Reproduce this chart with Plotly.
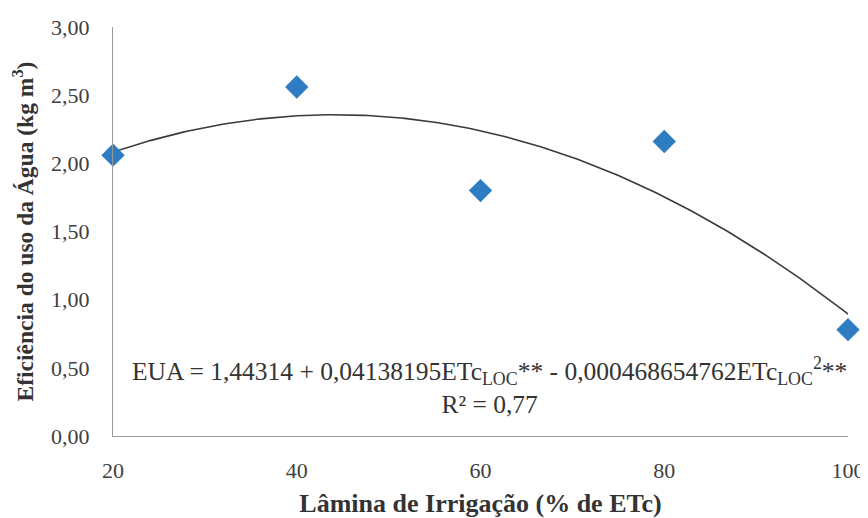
import numpy as np
import plotly.graph_objects as go

# Data
lamina = [20, 40, 60, 80, 100]
eua = [2.06, 2.56, 1.80, 2.16, 0.78]
# Quadratic trendline coefficients (as printed on the chart)
coef = [1.44314, 0.04138195, -0.000468654762]
x_ticks = [20, 40, 60, 80, 100]
y_ticks = [0, 0.5, 1.0, 1.5, 2.0, 2.5, 3.0]

xs = np.linspace(min(lamina), max(lamina), 200)
ys = coef[0] + coef[1] * xs + coef[2] * xs ** 2

fig = go.Figure()
fig.add_trace(go.Scatter(x=xs, y=ys, mode="lines",
                         line=dict(color="#3a3a3a", width=1.6),
                         cliponaxis=False, showlegend=False))
fig.add_trace(go.Scatter(x=lamina, y=eua, mode="markers",
                         marker=dict(symbol="diamond", size=18, color="#2E7DC2"),
                         cliponaxis=False, showlegend=False))

font = "Liberation Serif"
fig.add_annotation(
    x=61, y=0.37, xref="x", yref="y", showarrow=False,
    text="EUA = 1,44314 + 0,04138195ETc<sub>LOC</sub>** - 0,000468654762ETc<sub>LOC</sub><sup>2</sup>**<br>R² = 0,77",
    font=dict(family=font, size=25.5, color="#333"), align="center", yanchor="middle")

# page body has an 8px default margin, so the figure is drawn 8px smaller
fig.update_layout(
    width=860, height=510,
    margin=dict(l=105, r=20, t=19, b=82),
    plot_bgcolor="white", paper_bgcolor="white",
    separators=",.",
    font=dict(family=font, size=22, color="#404040"),
    xaxis=dict(range=[20, 100], tickvals=x_ticks, showgrid=False, zeroline=False,
               showline=True, linecolor="#999", linewidth=1, ticks="", automargin=False,
               ticklabelstandoff=15, tickfont=dict(family=font, size=22, color="#404040"),
               title=dict(text="<b>Lâmina de Irrigação (% de ETc)</b>",
                          font=dict(family=font, size=26, color="#333"), standoff=12)),
    yaxis=dict(range=[0, 3], tickvals=y_ticks, tickformat=".2f", showgrid=False,
               zeroline=False, showline=True, linecolor="#999", linewidth=1, ticks="",
               automargin=False,
               ticklabelstandoff=18, tickfont=dict(family=font, size=22, color="#404040"),
               title=dict(text="<b>Eficiência do uso da Água (kg m<sup>3</sup>)</b>",
                          font=dict(family=font, size=23.5, color="#333"), standoff=10)),
)

fig.write_html("out.html")
